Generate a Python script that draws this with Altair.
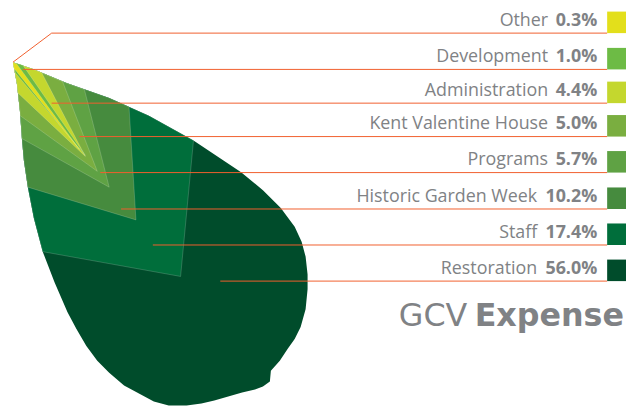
import altair as alt
import pandas as pd

# ---------------- data ----------------
categories = ["Other", "Development", "Administration", "Kent Valentine House",
              "Programs", "Historic Garden Week", "Staff", "Restoration"]
values = [0.3, 1.0, 4.4, 5.0, 5.7, 10.2, 17.4, 56.0]
colors = ["#e3df1b", "#6dbb45", "#c4d72e", "#7aae40",
          "#5fa244", "#468b3e", "#006e3b", "#004c2b"]
title_regular = "GCV"
title_bold = "Expense"

# ---------------- layout geometry (picture pixels) ----------------
TIP = (13, 61)
# leaf outline, clockwise from the tip along the top edge, round the bottom, up the left edge
TOP_EDGE = [(33, 68), (67, 82), (110, 97), (150, 115), (195, 140), (243, 172),
            (265, 190), (283, 208), (297, 227), (304, 242), (308, 257), (310, 275),
            (310, 290), (308, 310), (303, 328), (297, 340), (290, 350), (282, 362),
            (273, 372), (272, 383), (265, 388), (257, 391), (244, 394), (230, 398),
            (216, 402), (203, 405), (188, 407), (170, 407), (155, 403), (140, 395),
            (125, 387), (110, 374), (98, 362), (87, 347), (77, 330), (68, 313),
            (55, 283), (43, 252), (34, 218), (28, 187), (24, 160), (22, 138),
            (20, 110), (17, 83)]
LEFT_EDGE_DOWN = [(17, 83), (20, 110), (22, 138), (24, 160), (28, 187), (34, 218), (43, 252)]
TOP_EDGE_RIGHT = [(33, 68), (67, 82), (110, 97), (150, 115), (195, 140)]
# cumulative wedge corners for each category except Restoration: left point, notch, right point
WEDGES = {
    "Staff": ((43, 252), (182, 277), (195, 140)),
    "Historic Garden Week": ((28, 187), (137, 220), (130, 106)),
    "Programs": ((22, 138), (110, 187), (85, 88.5)),
    "Kent Valentine House": ((20.4, 115), (98, 171), (63, 80.5)),
    "Administration": ((18, 92), (86, 156), (42, 71.7)),
    "Development": ((15.5, 72), (86, 155), (23, 64)),
    "Other": ((14, 67), (80, 149), (17, 63)),
}
LINE_Y = [31.7, 68.3, 102.3, 136, 172.3, 209, 245.3, 281.7]
LINE_X0 = [13, 23, 52, 80, 101, 122, 154, 222]
OTHER_ELBOW = (52, 31.7)
LINE_X1 = 612
VALUE_RIGHT = 602

W, H = 623, 399
xs = alt.Scale(domain=[8, 8 + W], nice=False, zero=False)
ys = alt.Scale(domain=[8, 8 + H], nice=False, zero=False, reverse=True)
X = lambda f="x": alt.X(f"{f}:Q", scale=xs, axis=None)
Y = lambda f="y": alt.Y(f"{f}:Q", scale=ys, axis=None)


def polygon_layer(points, color, stroke=True):
    df = pd.DataFrame({"x": [p[0] for p in points], "y": [p[1] for p in points],
                       "i": list(range(len(points)))})
    kw = dict(interpolate="linear-closed", fill=color, color=color,
              strokeWidth=0.7 if stroke else 0)
    if stroke:
        kw.update(stroke="#ffffff", strokeOpacity=0.25)
    return alt.Chart(df).mark_line(**kw).encode(x=X(), y=Y(), order="i:O")


layers = []
# whole leaf = Restoration
leaf = [TIP] + TOP_EDGE
layers.append(polygon_layer(leaf, colors[7], stroke=False))

# nested wedges from outer to inner
for name in ["Staff", "Historic Garden Week", "Programs", "Kent Valentine House",
             "Administration", "Development", "Other"]:
    L, N, R = WEDGES[name]
    pts = [TIP] + [p for p in LEFT_EDGE_DOWN if p[1] < L[1]] + [L, N, R] + \
          [p for p in reversed(TOP_EDGE_RIGHT) if p[0] < R[0]]
    layers.append(polygon_layer(pts, colors[categories.index(name)]))

# leader lines
rows = []
for k, cat in enumerate(categories):
    pts = [(LINE_X0[k], LINE_Y[k])]
    if cat == "Other":
        pts = [TIP, OTHER_ELBOW]
    pts.append((LINE_X1, LINE_Y[k]))
    for j, p in enumerate(pts):
        rows.append({"cat": cat, "x": p[0], "y": p[1], "i": j})
lines = alt.Chart(pd.DataFrame(rows)).mark_line(color="#f15f2e", strokeWidth=1).encode(
    x=X(), y=Y(), detail="cat:N", order="i:O")
layers.append(lines)

# swatches
sw = pd.DataFrame({"cat": categories, "x": [LINE_X1] * 8, "x2": [LINE_X1 + 19] * 8,
                   "y": [v - 21.7 for v in LINE_Y], "y2": LINE_Y, "c": colors})
layers.append(alt.Chart(sw).mark_rect().encode(
    x=X(), x2="x2:Q", y=Y(), y2="y2:Q",
    color=alt.Color("c:N", scale=None)))

# labels
lab = pd.DataFrame({
    "cat": categories,
    "val": [f"{v:.1f}%" for v in values],
    "y": [v - 12.5 for v in LINE_Y],
    "xv": [VALUE_RIGHT] * 8,
    "xn": [VALUE_RIGHT - (42 if len(f"{v:.1f}") < 4 else 53) - 7.5 for v in values],
})
font = "Open Sans"
gray = "#808285"
layers.append(alt.Chart(lab).mark_text(align="right", baseline="middle", font=font,
                                       fontSize=18, fontWeight="bold", color=gray).encode(
    x=X("xv"), y=Y(), text="val:N"))
layers.append(alt.Chart(lab).mark_text(align="right", baseline="middle", font=font,
                                       fontSize=18, color=gray).encode(
    x=X("xn"), y=Y(), text="cat:N"))

# title
tfont = "DejaVu Sans"
tdf = pd.DataFrame({"t": [title_regular, title_bold], "x": [471, 629], "y": [327, 327],
                    "w": ["normal", "bold"]})
layers.append(alt.Chart(tdf[tdf.w == "normal"]).mark_text(
    align="right", baseline="alphabetic", font=tfont, fontSize=32, color=gray).encode(
    x=X(), y=Y(), text="t:N"))
layers.append(alt.Chart(tdf[tdf.w == "bold"]).mark_text(
    align="right", baseline="alphabetic", font=tfont, fontSize=32, fontWeight="bold",
    color=gray).encode(x=X(), y=Y(), text="t:N"))

chart = alt.layer(*layers).properties(
    width=W, height=H, padding=0, autosize="none"
).configure_view(stroke=None)

chart.save("out.html", embed_options={"renderer": "svg", "actions": False})
